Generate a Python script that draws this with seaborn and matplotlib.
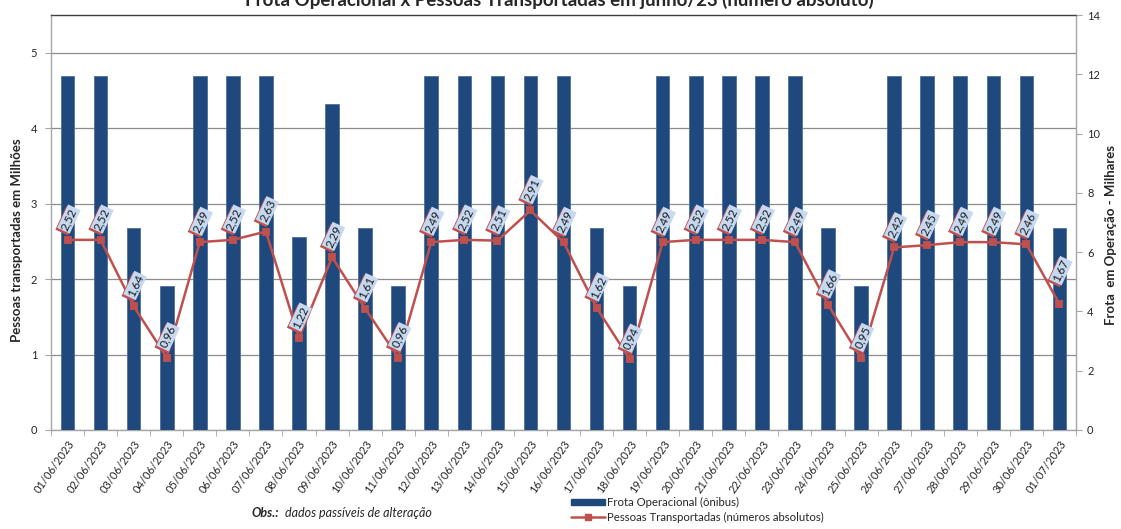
import numpy as np
import matplotlib
matplotlib.use("Agg")
from matplotlib import pyplot as plt
import matplotlib.patheffects as pe
from matplotlib.lines import Line2D
from matplotlib.patches import Patch
import seaborn as sns

# dados
datas = ["01/06/2023", "02/06/2023", "03/06/2023", "04/06/2023", "05/06/2023", "06/06/2023",
         "07/06/2023", "08/06/2023", "09/06/2023", "10/06/2023", "11/06/2023", "12/06/2023",
         "13/06/2023", "14/06/2023", "15/06/2023", "16/06/2023", "17/06/2023", "18/06/2023",
         "19/06/2023", "20/06/2023", "21/06/2023", "22/06/2023", "23/06/2023", "24/06/2023",
         "25/06/2023", "26/06/2023", "27/06/2023", "28/06/2023", "29/06/2023", "30/06/2023",
         "01/07/2023"]
frota = [11.94, 11.94, 6.82, 4.85, 11.94, 11.94, 11.94, 6.50, 10.99, 6.82, 4.85, 11.94,
         11.94, 11.94, 11.94, 11.94, 6.82, 4.85, 11.94, 11.94, 11.94, 11.94, 11.94, 6.82,
         4.85, 11.94, 11.94, 11.94, 11.94, 11.94, 6.82]
pessoas = [2.52, 2.52, 1.64, 0.96, 2.49, 2.52, 2.63, 1.22, 2.29, 1.61, 0.96, 2.49,
           2.52, 2.51, 2.91, 2.49, 1.62, 0.94, 2.49, 2.52, 2.52, 2.52, 2.49, 1.66,
           0.95, 2.42, 2.45, 2.49, 2.49, 2.46, 1.67]

azul = "#1f497d"
vermelho = "#c0504d"
cinza = "#a6a6a6"

sns.set_style("white")
plt.rcParams["font.family"] = ["Lato", "DejaVu Sans"]

fig = plt.figure(figsize=(11.21, 5.29), dpi=100)
ax = fig.add_axes([51 / 1121, 1 - 430 / 529, (1076 - 51) / 1121, (430 - 15) / 529])
axb = ax.twinx()
axl = ax.twinx()
ax.set_zorder(0)
axb.set_zorder(1)
axl.set_zorder(2)

# barras - frota (eixo direito)
sns.barplot(x=datas, y=frota, ax=axb, color=azul, width=0.41, saturation=1,
            edgecolor="#4f6f9f", linewidth=0.6)
axb.set_ylim(0, 14)
axb.set_yticks(range(0, 15, 2))
axb.set_ylabel("")
axb.tick_params(axis="y", labelsize=8, length=4, color=cinza, pad=4, direction="out")
for s in axb.spines.values():
    s.set_visible(False)

# linha - pessoas (eixo esquerdo)
sns.pointplot(x=datas, y=pessoas, ax=axl, color=vermelho, markers="s",
              markersize=5, linewidth=1.8, errorbar=None)
axl.set_ylim(0, 5.5)
axl.yaxis.set_visible(False)
for s in axl.spines.values():
    s.set_visible(False)

for i, v in enumerate(pessoas):
    off = 24 if i == len(pessoas) - 1 else 15
    t = axl.annotate(f"{v:.2f}".replace(".", ","), (i, v), xytext=(1, off),
                     textcoords="offset points", ha="center", va="center",
                     rotation=65, fontsize=8.5, color="#1a1a1a",
                     bbox=dict(boxstyle="square,pad=0.12", fc="#c6d9f0", ec="none"))
    t.get_bbox_patch().set_path_effects(
        [pe.SimplePatchShadow(offset=(-1.3, -1.3), shadow_rgbFace=vermelho, alpha=1), pe.Normal()])

# eixo base: grade e eixo esquerdo
ax.set_ylim(0, 5.5)
ax.set_yticks(range(6))
ax.yaxis.grid(True, color="#8c8c8c", lw=0.9)
ax.tick_params(axis="y", labelsize=8, length=4, color=cinza, left=True, direction="out", pad=6)
ax.set_xlim(-0.5, len(datas) - 0.5)
axb.set_xlim(-0.5, len(datas) - 0.5)
ax.set_xticks(range(len(datas)))
ax.set_xticklabels(datas, rotation=55, ha="right", rotation_mode="anchor", fontsize=8)
ax.set_xticks(np.arange(len(datas) + 1) - 0.5, minor=True)
ax.tick_params(axis="x", which="major", length=0, pad=6)
ax.tick_params(axis="x", which="minor", length=4, color=cinza, bottom=True, direction="out")
for k, s in ax.spines.items():
    s.set_color(cinza)
    s.set_linewidth(1)
ax.spines["top"].set_color("#404040")

fig.text(559 / 1121, 1 - 6 / 529, "Frota Operacional x Pessoas Transportadas em junho/23 (número absoluto)",
         ha="center", va="baseline", fontsize=13.5, fontweight="bold")
fig.text(17 / 1121, 1 - 240 / 529, "Pessoas transportadas em Milhões", rotation=90,
         ha="center", va="center", fontsize=9.5, fontweight="bold")
fig.text(1111 / 1121, 1 - 235 / 529, "Frota  em Operação - Milhares", rotation=90,
         ha="center", va="center", fontsize=9.5, fontweight="bold")

fig.text(252 / 1121, 1 - 513 / 529, "Obs.:", ha="left", va="center", fontsize=9,
         fontweight="bold", style="italic")
fig.text(285 / 1121, 1 - 513 / 529, "dados passíveis de alteração", ha="left", va="center",
         fontsize=9, style="italic")

handles = [Patch(facecolor=azul, edgecolor=azul),
           Line2D([], [], color=vermelho, lw=1.8, marker="s", markersize=5)]
fig.legend(handles, ["Frota Operacional (ônibus)", "Pessoas Transportadas (números absolutos)"],
           loc="upper left", bbox_to_anchor=(571 / 1121, 1 - 497 / 529), frameon=False,
           fontsize=8.2, handlelength=3.0, handleheight=0.5, labelspacing=0.3,
           handletextpad=0.2, borderaxespad=0, borderpad=0)

plt.savefig("out.png", dpi=100)
